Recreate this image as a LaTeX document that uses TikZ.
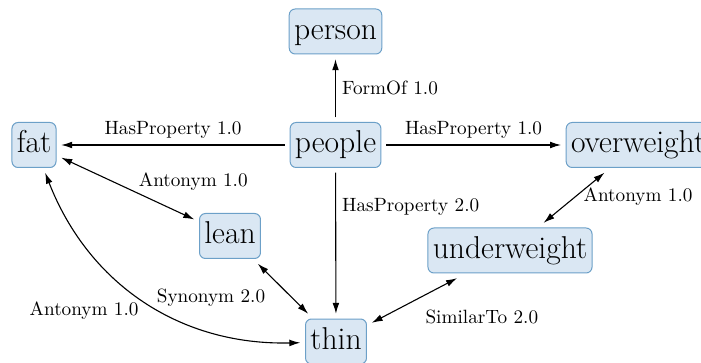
\documentclass[tikz,border=0pt]{standalone}
\usepackage{fontspec}
\usetikzlibrary{arrows.meta}
\definecolor{nodefill}{RGB}{218,231,243}
\definecolor{nodedraw}{RGB}{108,160,200}
\begin{document}
\begin{tikzpicture}[x=0.5pt,y=-0.5pt,
  concept/.style={draw=nodedraw, fill=nodefill, rounded corners=3pt, line width=0.5pt,
    font=\fontsize{15.8}{18}\selectfont, text height=10.8pt, text depth=3pt, inner xsep=2.4pt, inner ysep=4.2pt,
    minimum height=22.5pt, outer sep=2.6pt},
  rel/.style={-{Latex[length=5.5pt,width=3.4pt]}, line width=0.55pt},
  birel/.style={{Latex[length=5.5pt,width=3.4pt]}-{Latex[length=5.5pt,width=3.4pt]}, line width=0.55pt},
  lbl/.style={font=\fontsize{9.6}{11}\selectfont, inner sep=3pt}]
\useasboundingbox (0,0) rectangle (701,363);
\node[concept] (person) at (335.5,31.5) {person};
\node[concept] (people) at (335.5,145) {people};
\node[concept] (fat) at (34,145) {fat};
\node[concept, anchor=west] (overweight) at (561,145) {overweight};
\node[concept] (lean) at (230,236) {lean};
\node[concept] (underweight) at (510,250.5) {underweight};
\node[concept] (thin) at (336,341.5) {thin};

\draw[rel] (people) -- node[lbl, right] (l1) {FormOf 1.0} (person);
\draw[rel] (people) -- node[lbl, above] (l2) {HasProperty 1.0} (fat);
\draw[rel] (people) -- node[lbl, above] (l3) {HasProperty 1.0} (overweight);
\draw[rel] (people) -- node[lbl, right, pos=0.24] (l4) {HasProperty 2.0} (thin);
\draw[birel] (fat) -- node[lbl, xshift=32.75pt, yshift=3.5pt] (l5) {Antonym 1.0} (lean);
\draw[birel] (fat) to[bend right=35] node[lbl, xshift=-30pt, yshift=-5pt] (l6) {Antonym 1.0} (thin);
\draw[birel] (lean) -- node[lbl, xshift=-36pt, yshift=-4.25pt] (l7) {Synonym 2.0} (thin);
\draw[birel] (overweight) -- node[lbl, xshift=32pt, yshift=0.75pt] (l8) {Antonym 1.0} (underweight);
\draw[birel] (thin) -- node[lbl, xshift=33.75pt, yshift=-8.35pt] (l9) {SimilarTo 2.0} (underweight);
\end{tikzpicture}
\end{document}
